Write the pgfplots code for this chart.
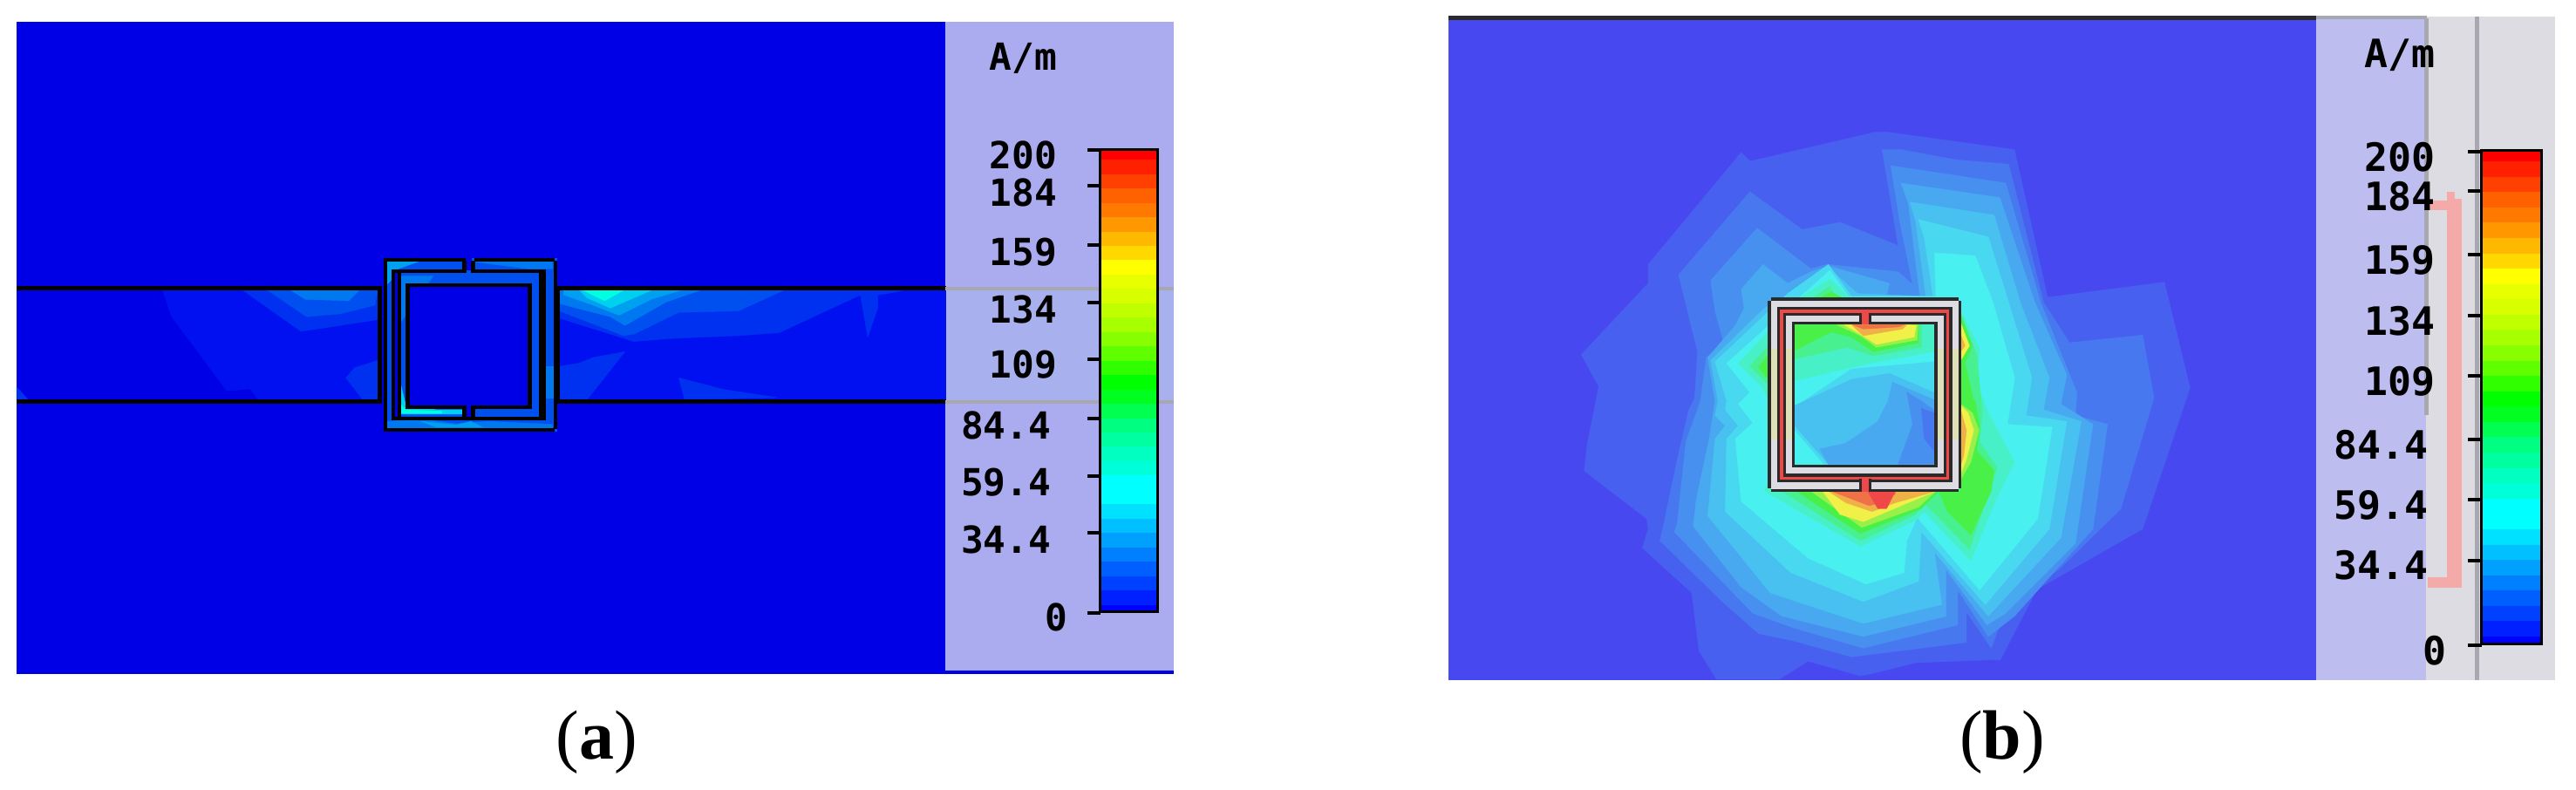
\documentclass[border=0pt]{standalone}
\usepackage{fontspec}
\setmainfont{Liberation Serif}
\newfontfamily\pix{DejaVu Sans Mono}[BoldFont={DejaVu Sans Mono Bold}]
\usepackage{pgfplots}
\pgfplotsset{compat=1.18}
\definecolor{Lz}{HTML}{4848F0}
\definecolor{La}{HTML}{4860F0}\definecolor{Lb}{HTML}{4878F0}\definecolor{Lc}{HTML}{4890F0}
\definecolor{Ld}{HTML}{48A8F0}\definecolor{Le}{HTML}{48C0F0}\definecolor{Lf}{HTML}{48D8F0}
\definecolor{Lg}{HTML}{48F0F0}\definecolor{Lh}{HTML}{48F0C8}\definecolor{Li}{HTML}{48F090}
\definecolor{Lj}{HTML}{48F048}\definecolor{Lk}{HTML}{98F048}\definecolor{Ll}{HTML}{F0F048}
\definecolor{Lm}{HTML}{F0B048}\definecolor{Ln}{HTML}{F07048}\definecolor{Lo}{HTML}{F04848}
\definecolor{Bb}{HTML}{0000E6}\definecolor{Pa}{HTML}{ABABEF}\definecolor{Pb}{HTML}{BDBDEF}
\definecolor{Gr}{HTML}{DCDCE2}\definecolor{Dk}{HTML}{2A2A2A}\definecolor{Pk}{HTML}{F5AAAA}
\definecolor{Yt}{HTML}{E0E0B8}\definecolor{Ln2}{HTML}{A8A8B0}
\definecolor{A1}{HTML}{0010F0}\definecolor{A2}{HTML}{0030F0}\definecolor{A3}{HTML}{0050F0}
\definecolor{A4}{HTML}{0078F0}\definecolor{A5}{HTML}{00A0F0}\definecolor{A6}{HTML}{00D0F0}\definecolor{A7}{HTML}{00FFE0}
\newcommand{\poly}[2]{\addplot[fill=#1,draw=#1,line width=0.1pt,no marks,forget plot] coordinates {#2} -- cycle;}
\newcommand{\rect}[5]{\poly{#1}{(#2,#3) (#4,#3) (#4,#5) (#2,#5)}}
\pgfplotsset{
  base/.style={at={(0,0)},anchor=south west,scale only axis,width=738.5bp,height=226.5bp,hide axis,y dir=reverse},
  pix/.style n args={3}{base,xmin={-(#1)*#3},xmax={(2954-(#1))*#3},ymin={-(#2)*#3},ymax={(906-(#2))*#3}},
  cb/.style n args={4}{base,xmin={-(#1)/(#2-#1)},xmax={(2954-#1)/(#2-#1)},
     ymin={0.3-(#3)*32.2/(#4-#3)},ymax={0.3+(906-#3)*32.2/(#4-#3)}}
}
\newcommand{\bands}{%
\rect{{rgb,255:red,255;green,0;blue,0}}{0}{0.3}{1}{1}
\rect{{rgb,255:red,255;green,32;blue,0}}{0}{1}{1}{2}
\rect{{rgb,255:red,255;green,64;blue,0}}{0}{2}{1}{3}
\rect{{rgb,255:red,255;green,96;blue,0}}{0}{3}{1}{4}
\rect{{rgb,255:red,255;green,120;blue,0}}{0}{4}{1}{5}
\rect{{rgb,255:red,255;green,152;blue,0}}{0}{5}{1}{6}
\rect{{rgb,255:red,255;green,184;blue,0}}{0}{6}{1}{7}
\rect{{rgb,255:red,255;green,216;blue,0}}{0}{7}{1}{8}
\rect{{rgb,255:red,255;green,255;blue,0}}{0}{8}{1}{9}
\rect{{rgb,255:red,232;green,255;blue,0}}{0}{9}{1}{10}
\rect{{rgb,255:red,216;green,255;blue,0}}{0}{10}{1}{11}
\rect{{rgb,255:red,192;green,255;blue,0}}{0}{11}{1}{12}
\rect{{rgb,255:red,168;green,255;blue,0}}{0}{12}{1}{13}
\rect{{rgb,255:red,136;green,255;blue,0}}{0}{13}{1}{14}
\rect{{rgb,255:red,96;green,255;blue,0}}{0}{14}{1}{15}
\rect{{rgb,255:red,48;green,255;blue,0}}{0}{15}{1}{16}
\rect{{rgb,255:red,0;green,255;blue,0}}{0}{16}{1}{17}
\rect{{rgb,255:red,0;green,255;blue,32}}{0}{17}{1}{18}
\rect{{rgb,255:red,0;green,255;blue,80}}{0}{18}{1}{19}
\rect{{rgb,255:red,0;green,255;blue,128}}{0}{19}{1}{20}
\rect{{rgb,255:red,0;green,255;blue,160}}{0}{20}{1}{21}
\rect{{rgb,255:red,0;green,255;blue,192}}{0}{21}{1}{22}
\rect{{rgb,255:red,0;green,255;blue,216}}{0}{22}{1}{23}
\rect{{rgb,255:red,0;green,255;blue,255}}{0}{23}{1}{25}
\rect{{rgb,255:red,0;green,224;blue,255}}{0}{25}{1}{26}
\rect{{rgb,255:red,0;green,192;blue,255}}{0}{26}{1}{27}
\rect{{rgb,255:red,0;green,160;blue,255}}{0}{27}{1}{28}
\rect{{rgb,255:red,0;green,128;blue,255}}{0}{28}{1}{29}
\rect{{rgb,255:red,0;green,96;blue,255}}{0}{29}{1}{30}
\rect{{rgb,255:red,0;green,64;blue,255}}{0}{30}{1}{31}
\rect{{rgb,255:red,0;green,32;blue,255}}{0}{31}{1}{32}
\rect{{rgb,255:red,0;green,0;blue,255}}{0}{32}{1}{32.5}
\addplot[draw=black,line width=0.75bp,no marks,forget plot] coordinates {(0,0.3) (1,0.3) (1,32.5) (0,32.5)} -- cycle;
}
\begin{document}
\begin{tikzpicture}
% ---------- backgrounds, pixel coordinates
\begin{axis}[pix={0}{0}{1}]
\rect{white}{0}{0}{2954}{906}
\rect{Bb}{19}{25}{1084}{772}
\rect{Pa}{1084}{25}{1345}{769}
\rect{Bb}{1084}{769}{1345}{772}
\rect{{rgb,255:red,168;green,176;blue,238}}{1084}{331}{1345}{460}
\poly{A2}{(19,444) (33,459) (19,459)}
\rect{Lz}{1661}{21}{2656}{779}
\rect{Dk}{1661}{18}{2656}{22}
\rect{Pb}{2656}{19}{2782}{779}
\rect{Gr}{2782}{19}{2929}{779}
\rect{Ln2}{2656}{18}{2782}{21}
\end{axis}
% ---------- strip of (a), left part
\begin{axis}[pix={160}{320}{3}]
\poly{A1}{(78,35) (110,130) (200,250) (300,385) (380,378) (410,418) (820,418) (820,35)}
\poly{A2}{(350,35) (555,180) (625,170) (820,140) (820,35)}
\poly{A3}{(435,35) (575,130) (690,120) (810,90) (820,35)}
\poly{A4}{(515,35) (570,70) (720,75) (760,35)}
\poly{A2}{(710,340) (740,305) (820,280) (820,418) (770,418)}
\end{axis}
% ---------- strip of (a), right part
\begin{axis}[pix={630}{320}{3}]
\rect{A1}{35}{35}{1362}{418}
\poly{A2}{(35,35) (1235,35) (1165,50) (1130,55) (1130,100) (1095,200) (1070,55) (790,185) (650,195) (415,205) (290,215) (35,135)}
\poly{A2}{(35,300) (100,290) (150,270) (260,250) (130,415) (35,415)}
\poly{A2}{(445,340) (600,380) (785,408) (465,415)}
\poly{A3}{(35,35) (815,35) (650,110) (445,115) (290,190) (255,195) (35,110)}
\poly{A4}{(35,35) (530,35) (400,80) (260,160) (210,130) (35,85)}
\poly{A5}{(50,35) (465,35) (350,70) (240,125) (150,90) (50,55)}
\poly{A6}{(100,35) (360,35) (210,100) (130,65)}
\poly{A7}{(110,36) (260,36) (190,75)}
\end{axis}
% ---------- lines of the strip, pixel coordinates
\begin{axis}[pix={0}{0}{1}]
\rect{black}{19}{328.5}{437}{332}
\rect{black}{19}{458.5}{437}{462}
\rect{black}{433}{328.5}{437}{462}
\rect{black}{635}{328.5}{1084}{332}
\rect{black}{635}{458.5}{1084}{462}
\rect{black}{635}{328.5}{641}{462}
\rect{Ln2}{1084}{329}{1345}{332}
\rect{Ln2}{1084}{459}{1345}{462}
\end{axis}
% ---------- resonator of (a)
\begin{axis}[pix={400}{270}{3}]
\rect{A3}{120}{80}{715}{674}
\poly{A5}{(130,90) (240,90) (170,115) (150,150) (130,170)}
\poly{A4}{(130,640) (250,632) (370,648) (480,640) (700,650) (700,664) (130,664)}
\poly{A5}{(250,640) (370,652) (420,640) (460,660) (300,660)}
\poly{A4}{(430,90) (700,90) (700,115) (620,115) (500,100)}
\poly{A4}{(680,450) (705,450) (705,560) (680,560)}
\poly{A4}{(178,140) (290,140) (178,300)}
\poly{A6}{(178,510) (195,580) (300,600) (390,600) (390,615) (178,615)}
\poly{A7}{(178,580) (195,600) (320,605) (320,612) (178,612)}
\rect{Bb}{158}{128}{168}{625}
\rect{black}{120}{78}{400}{88}\rect{black}{432}{78}{705}{88}
\rect{black}{120}{80}{130}{673}\rect{black}{120}{664}{705}{674}\rect{black}{705}{88}{715}{664}
\rect{Bb}{402}{78}{422}{118}\rect{Bb}{402}{595}{422}{628}
\rect{black}{392}{88}{402}{128}\rect{black}{422}{88}{432}{128}
\rect{black}{148}{118}{402}{128}\rect{black}{422}{118}{675}{128}
\rect{black}{148}{118}{158}{635}\rect{black}{665}{118}{675}{635}\rect{black}{148}{625}{675}{635}
\rect{black}{168}{128}{178}{625}\rect{black}{655}{128}{665}{625}
\rect{Bb}{197}{165}{627}{595}
\rect{black}{197}{165}{627}{175}\rect{black}{197}{165}{207}{595}\rect{black}{617}{165}{627}{595}
\rect{black}{197}{585}{402}{595}\rect{black}{422}{585}{627}{595}
\rect{black}{392}{595}{402}{628}\rect{black}{422}{595}{432}{628}
\end{axis}
% ---------- field of (b): zoom coordinates u=(x-1790)*3, v=(y-140)*3
\begin{axis}[pix={1790}{140}{3}]
\poly{La}{(70,800) (300,555) (300,490) (620,105) (650,135) (1080,35) (1125,35) (1560,95) (1674,603) (2076,551) (2164,915) (2001,1400) (1637,1608) (1511,1851) (1480,1850) (1220,1860) (1060,1900) (1030,1905) (850,1855) (750,1917) (535,1917) (475,1820) (450,1620) (280,1465) (300,1400) (295,1365) (80,1200) (90,1110) (120,960) (130,910)}
\poly{Lb}{(405,525) (650,240) (830,370) (960,345) (1160,425) (1105,95) (1170,95) (1360,130) (1540,145) (1660,620) (1749,759) (2001,733) (2040,949) (1926,1331) (1713,1539) (1536,1660) (1480,1810) (1395,1685) (1395,1790) (1240,1810) (1000,1840) (800,1785) (680,1760) (555,1650) (340,1440) (350,1400) (400,1160) (440,990) (460,950) (470,790) (435,650)}
\poly{Lc}{(515,545) (675,365) (860,505) (915,490) (1160,515) (1210,560) (1165,340) (1135,150) (1530,210) (1650,620) (1775,932) (1770,1010) (1880,1040) (1830,1400) (1560,1700) (1470,1770) (1365,1610) (1365,1730) (1040,1810) (800,1740) (660,1690) (390,1410) (400,1380) (430,1100) (480,960) (500,810) (560,760) (530,650)}
\poly{Ld}{(620,575) (695,490) (780,555) (860,515) (920,495) (1130,555) (1120,600) (1235,600) (1195,280) (1170,210) (1510,260) (1630,620) (1740,870) (1720,970) (1830,1040) (1770,1450) (1530,1690) (1465,1730) (1325,1540) (1325,1700) (1040,1770) (760,1700) (620,1600) (455,1390) (465,1300) (510,1090) (530,960) (505,810) (600,700) (630,640)}
\poly{Le}{(1255,600) (1220,340) (1200,275) (1490,320) (1580,620) (1680,880) (1660,990) (1790,1030) (1720,1430) (1470,1700) (1285,1480) (1310,1660) (1040,1725) (720,1620) (505,1355) (530,1090) (565,1045) (530,1010) (540,960) (515,820) (700,640) (740,620) (930,510) (1020,590)}
\poly{Lf}{(1280,600) (1250,400) (1230,335) (1470,395) (1540,620) (1620,880) (1600,1010) (1740,1030) (1680,1400) (1460,1660) (1240,1410) (1230,1580) (1040,1650) (790,1550) (565,1340) (570,1090) (610,1045) (565,990) (570,960) (530,825) (780,590) (920,490) (1000,600)}
\poly{Lg}{(1290,600) (1285,450) (1425,460) (1486,620) (1561,880) (1536,1040) (1690,1050) (1640,1365) (1440,1610) (1225,1360) (1190,1440) (1180,1550) (1050,1590) (850,1500) (620,1305) (600,1090) (660,1035) (610,970) (650,930) (570,830) (925,510) (990,600)}
\poly{Lh}{(1000,610) (925,540) (830,600) (610,830) (690,910) (712,950) (712,1240) (700,1270) (1030,1460) (1220,1370) (1250,1340) (1410,1510) (1500,1290) (1560,1170) (1470,1000) (1430,900) (1440,780) (1375,650)}
\poly{Li}{(950,610) (925,565) (860,610) (650,840) (710,900) (712,1260) (760,1270) (1030,1440) (1220,1350) (1250,1310) (1405,1470) (1470,1280) (1500,1190) (1440,1100) (1450,1000) (1430,800) (1375,660)}
\poly{Lj}{(970,606) (930,585) (890,606)}
\poly{Lj}{(712,800) (680,845) (712,885)}
\poly{Lj}{(1375,660) (1415,770) (1390,830) (1420,960) (1375,960)}
\poly{Lj}{(1375,920) (1425,960) (1440,1050) (1430,1130) (1490,1200) (1480,1270) (1410,1420) (1330,1340) (1300,1270) (1375,1270)}
\poly{Lj}{(810,1270) (1030,1415) (1240,1330) (1300,1270)}
\poly{Lk}{(860,1270) (1035,1395) (1230,1325) (1290,1270)}
\poly{Ll}{(900,1270) (960,1350) (1040,1375) (1170,1320) (1290,1270)}
\poly{Lm}{(920,1270) (980,1310) (1070,1340) (1150,1310) (1290,1270)}
\poly{Ln}{(930,1270) (1060,1320) (1100,1310) (1150,1280) (1150,1270)}
\poly{Lo}{(1055,1270) (1090,1330) (1120,1330) (1150,1270)}
\poly{Ll}{(1375,690) (1405,770) (1375,820)}
\poly{Lm}{(1375,730) (1390,770) (1375,790)}
\poly{Lk}{(1375,970) (1415,1000) (1438,1060) (1410,1170) (1375,1230)}
\poly{Ll}{(1375,975) (1400,1000) (1420,1060) (1395,1160) (1375,1210)}
\poly{Lm}{(1375,990) (1395,1060) (1385,1150) (1375,1180)}
\end{axis}
% ---------- resonator of (b): zoom coordinates
\begin{axis}[pix={1980}{310}{3}]
\rect{Dk}{152}{95}{795}{105}
\rect{Dk}{142}{105}{152}{748}
\rect{Dk}{795}{105}{805}{748}
\rect{Dk}{152}{750}{460}{760}
\rect{Dk}{490}{750}{795}{760}
\rect{Gr}{152}{105}{795}{750}
\rect{Yt}{152}{270}{173}{580}
\rect{Yt}{773}{270}{795}{580}
\rect{Dk}{173}{126}{773}{728}
\rect{Lo}{183}{136}{763}{718}
\rect{Dk}{194}{147}{753}{708}
\rect{Gr}{204}{157}{743}{698}
\rect{Yt}{204}{270}{225}{580}
\rect{Yt}{722}{270}{743}{580}
\rect{Dk}{225}{178}{722}{677}
\rect{Dk}{455}{147}{495}{188}
\rect{Lo}{465}{147}{485}{188}
\rect{Dk}{455}{718}{495}{760}
\rect{Lo}{465}{718}{485}{760}
\end{axis}
% ---------- inside of the resonator of (b)
\begin{axis}[pix={1790}{140}{3}]
\rect{Lg}{805}{698}{1282}{1177}
\poly{Lh}{(805,698) (1282,698) (1282,790) (1060,830) (805,890)}
\poly{Li}{(805,698) (1240,698) (1240,775) (1075,805) (985,775) (805,815)}
\poly{Lj}{(805,698) (1230,698) (1230,760) (1075,790) (1000,740) (930,722) (805,785)}
\poly{Lk}{(950,698) (1228,698) (1225,750) (1085,775) (1030,735)}
\poly{Ll}{(975,698) (1190,698) (1222,700) (1215,740) (1085,765) (1030,730)}
\poly{Lm}{(1000,698) (1190,698) (1175,712) (1040,735)}
\poly{Ln}{(1005,698) (1180,698) (1160,705) (1040,712)}
\poly{Lf}{(805,980) (1000,850) (1282,825) (1282,1177) (905,1177) (805,1060)}
\poly{Le}{(805,975) (1000,885) (1130,865) (1282,930) (1282,1177) (920,1177) (805,1045)}
\poly{Ld}{(890,1125) (980,1105) (1090,1030) (1125,960) (1140,895) (1282,955) (1282,1177) (920,1177)}
\poly{Lc}{(1190,930) (1210,1040) (1160,1177) (1282,1177) (1282,990) (1240,960)}
\poly{Lb}{(1240,985) (1250,1090) (1282,1130) (1282,1000)}
\end{axis}
% ---------- gray rules and pink bracket of (b)
\begin{axis}[pix={0}{0}{1}]
\rect{Ln2}{2780}{21}{2784}{475}
\rect{Ln2}{2838}{19}{2842}{779}
\rect{Pk}{2806}{228}{2822}{673}
\rect{Pk}{2784}{230}{2822}{240}
\rect{Pk}{2806}{220}{2814}{232}
\rect{Pk}{2784}{662}{2822}{673}
\end{axis}
% ---------- colour bars
\begin{axis}[cb={1261}{1327}{172}{702}]
\bands
\end{axis}
\begin{axis}[cb={2845}{2914}{173}{739}]
\bands
\end{axis}
% ---------- ticks and texts
\begin{axis}[pix={0}{0}{1},clip=false]
\rect{black}{1247}{170}{1261}{173}\rect{black}{1247}{211}{1261}{214}
\rect{black}{1247}{279}{1261}{282}\rect{black}{1247}{345}{1261}{348}
\rect{black}{1247}{410}{1261}{413}\rect{black}{1247}{478}{1261}{481}
\rect{black}{1247}{544}{1261}{547}\rect{black}{1247}{609}{1261}{612}
\rect{black}{1247}{701}{1261}{704}
\rect{black}{2830}{172}{2845}{175}\rect{black}{2830}{217}{2845}{220}
\rect{black}{2830}{290}{2845}{293}\rect{black}{2830}{360}{2845}{363}
\rect{black}{2830}{429}{2845}{432}\rect{black}{2830}{502}{2845}{505}
\rect{black}{2830}{571}{2845}{574}\rect{black}{2830}{641}{2845}{644}
\rect{black}{2830}{738}{2845}{741}
\tikzset{pa/.style={anchor=east,inner sep=0pt,font=\pix\bfseries\fontsize{10.7bp}{12bp}\selectfont},
         pb/.style={anchor=east,inner sep=0pt,font=\pix\bfseries\fontsize{11.2bp}{12bp}\selectfont}}
\node[pa] at (1213,67) {A/m};
\node[pa] at (1213,177.5) {200};
\node[pa] at (1213,221) {184};
\node[pa] at (1213,289) {159};
\node[pa] at (1213,354.5) {134};
\node[pa] at (1213,418) {109};
\node[pa] at (1206,488) {84.4};
\node[pa] at (1206,553) {59.4};
\node[pa] at (1206,619) {34.4};
\node[pa] at (1225,708) {0};
\node[pb] at (2793,63.5) {A/m};
\node[pb] at (2793,180) {200};
\node[pb] at (2793,225) {184};
\node[pb] at (2793,298) {159};
\node[pb] at (2793,368) {134};
\node[pb] at (2793,437) {109};
\node[pb] at (2785,510) {84.4};
\node[pb] at (2785,579) {59.4};
\node[pb] at (2785,648) {34.4};
\node[pb] at (2806,746.5) {0};
\node[inner sep=0pt,font=\fontsize{20bp}{22bp}\selectfont] at (684,851) {(\textbf{a})};
\node[inner sep=0pt,font=\fontsize{20bp}{22bp}\selectfont] at (2296,851) {(\textbf{b})};
\end{axis}
\end{tikzpicture}
\end{document}
